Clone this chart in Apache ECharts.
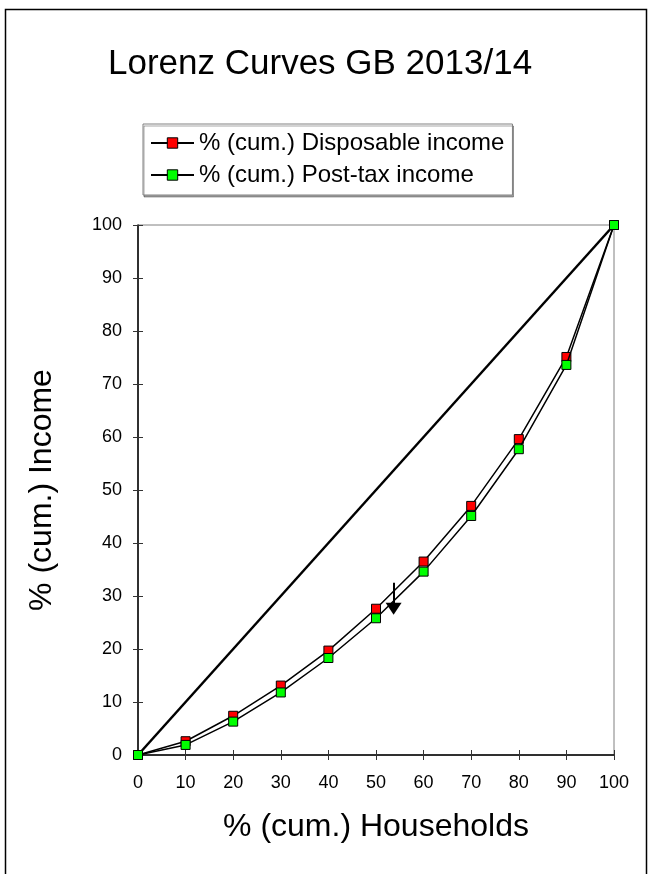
<!DOCTYPE html>
<html>
<head>
<meta charset="utf-8">
<script src="https://cdn.jsdelivr.net/npm/echarts@6/dist/echarts.min.js"></script>
<style>
html,body{margin:0;padding:0;background:#fff;}
#chart{width:648px;height:874px;}
</style>
</head>
<body>
<div id="chart"></div>
<script>
const titleText = 'Lorenz Curves GB 2013/14';
const xAxisName = '% (cum.) Households';
const yAxisName = '% (cum.) Income';
const seriesNames = ['% (cum.) Disposable income', '% (cum.) Post-tax income'];
const households = [0, 10, 20, 30, 40, 50, 60, 70, 80, 90, 100];
const disposable = [0, 2.6, 7.4, 13.1, 19.7, 27.6, 36.5, 47.0, 59.6, 75.1, 100];
const postTax = [0, 1.9, 6.3, 11.8, 18.3, 25.8, 34.6, 45.1, 57.7, 73.6, 100];
const equality = [[0, 0], [100, 100]];
const arrowFrom = [53.7, 32.5];
const arrowTo = [53.7, 27.6];

const FONT = '"Liberation Sans", Arial, sans-serif';
const chart = echarts.init(document.getElementById('chart'), null, {renderer: 'canvas'});

const pairs = (xs, ys) => xs.map((x, i) => [x, ys[i]]);

const valueAxisBase = {
  type: 'value', min: 0, max: 100, interval: 10,
  splitLine: {show: false}
};

chart.setOption({
  animation: false,
  backgroundColor: '#fff',
  graphic: [
    {type: 'rect', shape: {x: 5.5, y: 9.5, width: 641, height: 900},
     style: {fill: 'none', stroke: '#000', lineWidth: 1.5}, z: -10},
    {type: 'text', x: 108, y: 47, style: {text: titleText, font: '35px ' + FONT, fill: '#000', textAlign: 'left', textVerticalAlign: 'top'}}
  ],
  legend: {
    orient: 'vertical',
    left: 143, top: 124,
    data: seriesNames,
    backgroundColor: '#fff',
    borderColor: '#808080', borderWidth: 1,
    shadowColor: 'rgba(0,0,0,0.35)', shadowOffsetX: 1, shadowOffsetY: 2, shadowBlur: 0,
    padding: [7, 8, 8, 7],
    itemWidth: 43, itemHeight: 13, itemGap: 8,
    textStyle: {fontFamily: FONT, fontSize: 24, color: '#000', lineHeight: 24},
    itemStyle: {borderColor: '#000', borderWidth: 1}
  },
  grid: {
    left: 138, top: 225, right: 34, bottom: 119,
    show: true, borderColor: '#808080', borderWidth: 1, backgroundColor: 'transparent'
  },
  xAxis: [
    Object.assign({}, valueAxisBase, {
      position: 'bottom',
      name: xAxisName, nameLocation: 'middle', nameGap: 56,
      nameTextStyle: {fontFamily: FONT, fontSize: 32, color: '#000'},
      axisLine: {show: true, onZero: false, lineStyle: {color: '#000', width: 1.5}},
      axisTick: {show: true, inside: false, length: 5, lineStyle: {color: '#333', width: 1}},
      axisLabel: {fontFamily: FONT, fontSize: 18, color: '#000', margin: 19}
    }),
    Object.assign({}, valueAxisBase, {
      position: 'bottom',
      axisLine: {show: false, onZero: false},
      axisTick: {show: true, inside: true, length: 5, lineStyle: {color: '#333', width: 1}},
      axisLabel: {show: false}
    })
  ],
  yAxis: [
    Object.assign({}, valueAxisBase, {
      position: 'left',
      name: yAxisName, nameLocation: 'middle', nameGap: 80,
      nameTextStyle: {fontFamily: FONT, fontSize: 32, color: '#000'},
      axisLine: {show: true, onZero: false, lineStyle: {color: '#000', width: 1.5}},
      axisTick: {show: true, inside: false, length: 5, lineStyle: {color: '#333', width: 1}},
      axisLabel: {fontFamily: FONT, fontSize: 18, color: '#000', margin: 16}
    }),
    Object.assign({}, valueAxisBase, {
      position: 'left',
      axisLine: {show: false, onZero: false},
      axisTick: {show: true, inside: true, length: 5, lineStyle: {color: '#333', width: 1}},
      axisLabel: {show: false}
    })
  ],
  series: [
    {
      name: 'Equality', type: 'line', data: equality,
      showSymbol: false, symbol: 'none',
      lineStyle: {color: '#000', width: 2.5},
      silent: true, z: 2
    },
    {
      name: seriesNames[0], type: 'line', data: pairs(households, disposable),
      symbol: 'rect', symbolSize: 9,
      itemStyle: {color: '#ff0000', borderColor: '#000', borderWidth: 1},
      lineStyle: {color: '#000', width: 1.5},
      z: 3
    },
    {
      name: seriesNames[1], type: 'line', data: pairs(households, postTax),
      symbol: 'rect', symbolSize: 9,
      itemStyle: {color: '#00ff00', borderColor: '#000', borderWidth: 1},
      lineStyle: {color: '#000', width: 1.5},
      z: 4
    },
    {
      name: 'Arrow', type: 'line', data: [],
      silent: true, z: 5,
      markLine: {
        silent: true,
        symbol: ['none', 'triangle'], symbolSize: [16, 12],
        label: {show: false},
        lineStyle: {color: '#000', width: 2, type: 'solid'},
        data: [[{coord: arrowFrom}, {coord: arrowTo}]]
      }
    }
  ]
});
</script>
</body>
</html>
